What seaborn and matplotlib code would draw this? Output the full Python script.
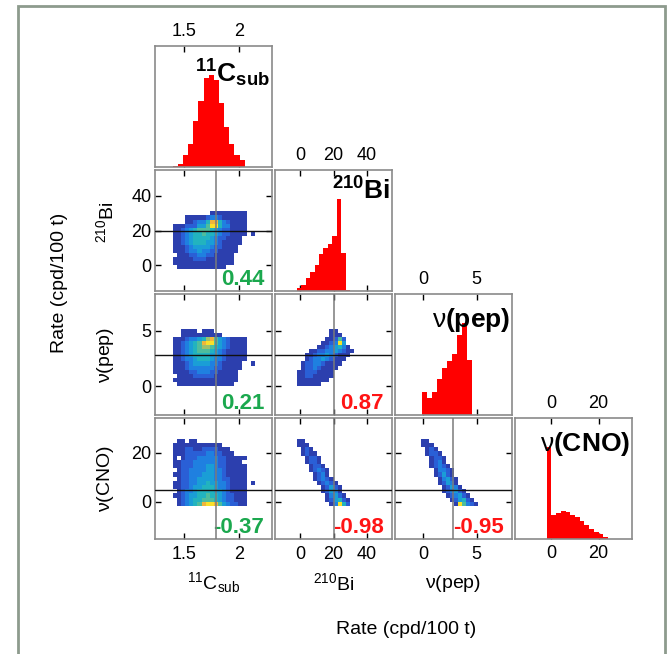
import numpy as np
import matplotlib
matplotlib.use("Agg")
import matplotlib.pyplot as plt
from matplotlib.colors import LinearSegmentedColormap
from matplotlib.patches import Rectangle
import seaborn as sns

sns.set_style("white")
plt.rcParams["font.family"] = ["Liberation Sans", "DejaVu Sans"]
plt.rcParams["mathtext.fontset"] = "custom"
plt.rcParams["mathtext.rm"] = "Liberation Sans"
plt.rcParams["mathtext.it"] = "Liberation Sans:italic"
plt.rcParams["mathtext.bf"] = "Liberation Sans:bold"
for key in ["text.color", "axes.labelcolor", "xtick.color", "ytick.color"]:
    plt.rcParams[key] = "black"

# ---------------------------------------------------------------- data
species = ["C11", "Bi210", "pep", "CNO"]
axis_labels = [r"$\mathregular{^{11}C_{sub}}$", r"$\mathregular{^{210}Bi}$",
               r"$\mathrm{\nu}$(pep)", r"$\mathrm{\nu}$(CNO)"]
panel_titles = [r"$\mathbf{^{11}C_{sub}}$", r"$\mathbf{^{210}Bi}$",
                r"$\mathrm{\nu}\mathbf{(pep)}$", r"$\mathrm{\nu}\mathbf{(CNO)}$"]
rate_label = "Rate (cpd/100 t)"

best_fit = [1.79, 20.0, 2.8, 5.0]
limits = [(1.24, 2.30), (-15, 55), (-2.6, 8.3), (-15, 34)]
ticks = [[1.5, 2.0], [0, 20, 40], [0, 5], [0, 20]]
tick_labels = [["1.5", "2"], ["0", "20", "40"], ["0", "5"], ["0", "20"]]

# marginal posteriors: first bin edge, bin width, counts
c11_start, c11_width = 1.40, 0.045
c11_counts = [3, 10, 35, 70, 140, 200, 270, 280, 265, 195, 120, 70, 35, 15, 5]
bi_start, bi_width = -2.0, 2.78
bi_counts = [8, 18, 40, 57, 80, 112, 130, 145, 167, 282, 117, 3]
pep_start, pep_width = -0.06, 0.438
pep_counts = [67, 50, 67, 107, 140, 162, 183, 237, 275, 155, 10]
cno_start, cno_width = -1.7, 2.05
cno_counts = [278, 73, 78, 85, 80, 73, 65, 53, 41, 30, 20, 15, 6]

# joint posteriors: cell grid origin / width per axis, density level per cell
grid_x0 = {"C11": 1.403, "Bi210": -2.0, "pep": -0.15}
grid_dx = {"C11": 0.037, "Bi210": 2.45, "pep": 0.379}
grid_y0 = {"Bi210": -2.5, "pep": 0.0, "CNO": -1.6}
grid_dy = {"Bi210": 2.4, "pep": 0.37, "CNO": 1.7}

bi_vs_c11 = [
    "00000000011111111100",
    "00011111233211111100",
    "00011233588532111100",
    "11122244699533111100",
    "11234566654322111100",
    "11234556554322111101",
    "11234555543221111000",
    "11234555443211111000",
    "11123444432211110000",
    "11123343322111110000",
    "01112233221111100000",
    "11111222111111100000",
    "11111111111111100000",
    "01111111111110000000",
]
pep_vs_c11 = [
    "00111101110000000000",
    "00111111111100000000",
    "11123345786432111100",
    "11234568996432111100",
    "11234567765432111100",
    "11234566654321111100",
    "11234555544321111100",
    "11233455543321111100",
    "11123444433211111001",
    "11123333332211111000",
    "11112233322111110000",
    "01111222221111110000",
    "11111111111111110000",
    "01111111111111100000",
]
cno_vs_c11 = [
    "01101100000000000000",
    "11111111111100000000",
    "11122112222111000000",
    "11122222332211100000",
    "10122233333221111100",
    "11222333333221111000",
    "11222333443221111100",
    "01223333443321111100",
    "11223334443321111100",
    "01223344443322111100",
    "11223344544332111101",
    "11223445554332111100",
    "01233455554432111100",
    "11234455655432211100",
    "01234556665432211100",
    "01234568998643221100",
]
pep_vs_bi = [
    "00000000110000",
    "00000000111000",
    "00000001126200",
    "00000011239400",
    "00000112345310",
    "00011223343211",
    "00112334321110",
    "00123343211100",
    "01223321111000",
    "01223211110000",
    "11222111100000",
    "11221111100000",
    "11111111000000",
    "11111100000000",
]
cno_vs_bi = [
    "11000000000000",
    "11100000000000",
    "01210000000000",
    "01211000000000",
    "00122100000000",
    "00122100000000",
    "00012210000000",
    "00012321000000",
    "00001231000000",
    "00001232100000",
    "00000123210000",
    "00000012421000",
    "00000012431000",
    "00000001342100",
    "00000001245210",
    "00000000139520",
]
cno_vs_pep = [
    "11000000000000",
    "11100000000000",
    "01210000000000",
    "01221000000000",
    "00122100000000",
    "00123100000000",
    "00123210000000",
    "00013321000000",
    "00012421000000",
    "00001342100000",
    "00001243100000",
    "00000124310000",
    "00000123421000",
    "00000012342100",
    "00000001245210",
    "00000000196321",
]

correlation = {(1, 0): 0.44, (2, 0): 0.21, (3, 0): -0.37,
               (2, 1): 0.87, (3, 1): -0.98, (3, 2): -0.95}

marginals = {
    "C11": (c11_start, c11_width, c11_counts),
    "Bi210": (bi_start, bi_width, bi_counts),
    "pep": (pep_start, pep_width, pep_counts),
    "CNO": (cno_start, cno_width, cno_counts),
}
joints = {
    (1, 0): bi_vs_c11, (2, 0): pep_vs_c11, (3, 0): cno_vs_c11,
    (2, 1): pep_vs_bi, (3, 1): cno_vs_bi, (3, 2): cno_vs_pep,
}

# ---------------------------------------------------------------- style
density_cmap = LinearSegmentedColormap.from_list(
    "density",
    ["#2c3fae", "#2a5fd6", "#1f80e0", "#1a9ed6", "#21b3c0",
     "#4cbd9e", "#9cc06c", "#f0b43c", "#f9e02a"])
green, red = "#1ba84e", "#ff1414"

W, H = 671, 654
col_x = [155, 275, 395, 515]
row_y = [46, 170, 294, 418]
pw, ph = 117, 121
ylabel_shift = [0, -8, 0, 0]

fig = plt.figure(figsize=(W / 100, H / 100), dpi=100)
fig.patch.set_facecolor("white")


def fx(px):
    return px / W


def fy(py):
    return 1 - py / H


def style_axes(ax):
    for s in ax.spines.values():
        s.set_color("#8a8a8a")
        s.set_linewidth(1.2)
    ax.tick_params(direction="in", length=4, width=1, color="black",
                   labelcolor="black", labelsize=13)
    ax.tick_params(axis="x", pad=5)
    ax.tick_params(axis="y", pad=2.5)
    ax.set_xlabel("")
    ax.set_ylabel("")


n = len(species)
for i in range(n):
    for j in range(i + 1):
        ax = fig.add_axes([fx(col_x[j]), fy(row_y[i] + ph), fx(pw), ph / H])
        if i == j:
            start, width, counts = marginals[species[i]]
            counts = np.asarray(counts, float)
            edges = start + width * np.arange(len(counts) + 1)
            centers = 0.5 * (edges[:-1] + edges[1:])
            sns.histplot(x=centers, weights=counts, binwidth=width,
                         binrange=(edges[0], edges[-1] - width / 2), ax=ax,
                         element="step", fill=True, color="red", alpha=1,
                         linewidth=0)
            ax.set_ylim(0, counts.max() * 1.31)
            ax.set_yticks([])
            ax.text(1 - 2 / pw, 1 - (7 if i == 1 else 12) / ph,
                    panel_titles[i], transform=ax.transAxes,
                    ha="right", va="top", fontsize=19, color="black")
            style_axes(ax)
            ax.tick_params(axis="x", top=True, bottom=True, labeltop=True,
                           labelbottom=(i == n - 1), pad=4)
        else:
            xs, ys = species[j], species[i]
            rows = joints[(i, j)]
            nr, nc = len(rows), len(rows[0])
            level = np.array([[int(ch) for ch in r] for r in rows], float)[::-1]
            xe = grid_x0[xs] + grid_dx[xs] * np.arange(nc + 1)
            ye = grid_y0[ys] + grid_dy[ys] * np.arange(nr + 1)
            xc, yc = np.meshgrid(0.5 * (xe[:-1] + xe[1:]),
                                 0.5 * (ye[:-1] + ye[1:]))
            keep = level > 0
            sns.histplot(x=xc[keep], y=yc[keep], weights=level[keep],
                         binwidth=(grid_dx[xs], grid_dy[ys]),
                         binrange=((xe[0], xe[-1] - grid_dx[xs] / 2),
                                   (ye[0], ye[-1] - grid_dy[ys] / 2)),
                         cmap=density_cmap, vmin=1, vmax=9, ax=ax)
            ax.axvline(best_fit[j], color="#7a7a7a", lw=1.1, zorder=5)
            ax.axhline(best_fit[i], color="#111111", lw=1.0, zorder=5)
            r = correlation[(i, j)]
            ax.annotate(f"{r:.2f}", xy=(1, 0), xycoords="axes fraction",
                        xytext=(-8, 6), textcoords="offset pixels",
                        ha="right", va="baseline", fontsize=16,
                        fontweight="bold",
                        color=green if abs(r) < 0.5 else red)
            ax.set_ylim(*limits[i])
            ax.set_yticks(ticks[i])
            ax.set_yticklabels(tick_labels[i])
            style_axes(ax)
            ax.tick_params(axis="x", top=True, bottom=True,
                           labelbottom=(i == n - 1))
            ax.tick_params(axis="y", left=True, right=True,
                           labelleft=(j == 0))
        ax.set_xlim(*limits[j])
        ax.set_xticks(ticks[j])
        ax.set_xticklabels(tick_labels[j])

# per-parameter axis names
for i in range(1, n):
    fig.text(fx(106), fy(row_y[i] + ph / 2 + ylabel_shift[i]), axis_labels[i],
             rotation=90, ha="center", va="center", fontsize=14,
             color="black")
for j in range(n - 1):
    fig.text(fx(col_x[j] + pw / 2), fy(583), axis_labels[j],
             ha="center", va="center", fontsize=14, color="black")

fig.text(fx(60), fy(283), rate_label, rotation=90, ha="center", va="center",
         fontsize=14, color="black")
fig.text(fx(406), fy(630), rate_label, ha="center", va="center", fontsize=14,
         color="black")

fig.patches.append(Rectangle((fx(18), -0.1), fx(665 - 18), 1.1 - 6 / H,
                             transform=fig.transFigure, fill=False,
                             edgecolor="#8d9b8d", linewidth=2))

fig.savefig("out.png", dpi=100)
